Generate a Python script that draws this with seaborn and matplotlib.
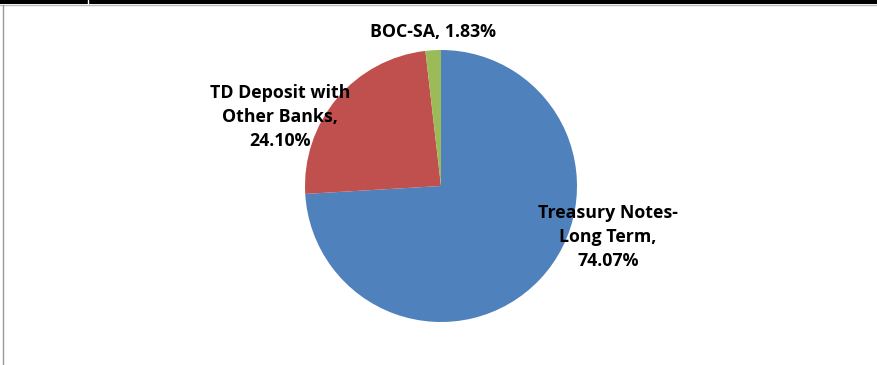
import matplotlib
matplotlib.use("Agg")
import matplotlib.pyplot as plt
import seaborn as sns
from matplotlib.lines import Line2D
from matplotlib.patches import Rectangle

labels = ["Treasury Notes-\nLong Term,\n74.07%", "TD Deposit with\nOther Banks,\n24.10%", "BOC-SA, 1.83%"]
values = [74.07, 24.10, 1.83]
colors = ["#4F81BD", "#C0504D", "#9BBB59"]

sns.set_theme(style="white")
plt.rcParams['font.family'] = ['Open Sans', 'DejaVu Sans']

W, H = 878, 365
fig = plt.figure(figsize=(W / 100, H / 100), dpi=100)
ax = fig.add_axes([0, 0, 1, 1])

cx, cy, r = 441, H - 186, 136
ax.pie(values, colors=colors, startangle=90, counterclock=False,
       center=(cx, cy), radius=r, frame=True,
       wedgeprops=dict(linewidth=0))
ax.set_xlim(0, W)
ax.set_ylim(0, H)
ax.set_aspect("auto")
ax.axis("off")

label_pos = [(608, H - 237), (280, H - 117), (433, H - 32)]
for txt, (x, y) in zip(labels, label_pos):
    ax.text(x, y, txt, ha="center", va="center", fontsize=12.8,
            fontweight="bold", color="black", linespacing=1.42)

# frame decorations
fig.add_artist(Rectangle((0, 1 - 4 / H), 1, 4 / H, transform=fig.transFigure,
                         facecolor="black", edgecolor="none"))
fig.add_artist(Line2D([88 / W, 88 / W], [1 - 4 / H, 1], transform=fig.transFigure,
                      color="white", linewidth=1))
fig.add_artist(Line2D([0, 1], [1 - 5 / H, 1 - 5 / H], transform=fig.transFigure,
                      color="#BBBBBB", linewidth=1))
fig.add_artist(Line2D([2.5 / W, 2.5 / W], [0, 1 - 5 / H], transform=fig.transFigure,
                      color="#999999", linewidth=1))

fig.savefig("out.png", dpi=100)
